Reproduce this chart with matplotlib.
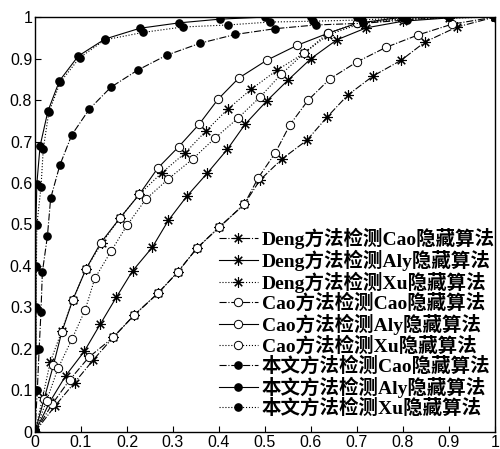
import matplotlib
matplotlib.use("Agg")
import matplotlib.pyplot as plt

# ROC-like curves (false positive rate, detection rate)
deng_cao_x = [0, 0.043, 0.086, 0.127, 0.17, 0.216, 0.267, 0.31, 0.352, 0.4, 0.455,
              0.489, 0.537, 0.591, 0.635, 0.68, 0.735, 0.796, 0.848, 0.917, 1]
deng_cao_y = [0, 0.062, 0.119, 0.174, 0.228, 0.282, 0.334, 0.385, 0.443, 0.493, 0.549,
              0.607, 0.658, 0.703, 0.759, 0.812, 0.858, 0.896, 0.94, 0.976, 1]

deng_aly_x = [0, 0.032, 0.067, 0.107, 0.142, 0.177, 0.212, 0.255, 0.29, 0.33, 0.374,
              0.418, 0.457, 0.504, 0.55, 0.6, 0.656, 0.72, 0.8, 0.9, 1]
deng_aly_y = [0, 0.072, 0.136, 0.194, 0.26, 0.325, 0.388, 0.445, 0.51, 0.568, 0.623,
              0.681, 0.742, 0.798, 0.848, 0.9, 0.945, 0.974, 0.99, 0.998, 1]

deng_xu_x = [0, 0.017, 0.033, 0.058, 0.082, 0.111, 0.145, 0.185, 0.227, 0.275, 0.326,
             0.372, 0.419, 0.47, 0.526, 0.585, 0.637, 0.71, 0.8, 1]
deng_xu_y = [0, 0.085, 0.168, 0.243, 0.318, 0.393, 0.455, 0.516, 0.573, 0.624, 0.672,
             0.726, 0.778, 0.826, 0.872, 0.913, 0.957, 0.985, 0.997, 1]

cao_cao_x = [0, 0.038, 0.075, 0.117, 0.17, 0.216, 0.267, 0.31, 0.352, 0.4, 0.455,
             0.485, 0.522, 0.554, 0.594, 0.641, 0.7, 0.763, 0.833, 0.907, 1]
cao_cao_y = [0, 0.068, 0.125, 0.18, 0.228, 0.282, 0.334, 0.385, 0.443, 0.493, 0.549,
             0.612, 0.672, 0.74, 0.8, 0.851, 0.892, 0.927, 0.957, 0.983, 1]

cao_aly_x = [0, 0.02, 0.04, 0.058, 0.082, 0.111, 0.143, 0.185, 0.227, 0.267, 0.312,
             0.357, 0.398, 0.443, 0.504, 0.57, 0.637, 0.7, 0.8, 1]
cao_aly_y = [0, 0.08, 0.161, 0.24, 0.318, 0.393, 0.456, 0.516, 0.573, 0.636, 0.687,
             0.742, 0.802, 0.853, 0.896, 0.932, 0.961, 0.985, 1, 1]

cao_xu_x = [0, 0.025, 0.05, 0.08, 0.109, 0.13, 0.165, 0.2, 0.241, 0.29, 0.343,
            0.391, 0.441, 0.489, 0.535, 0.585, 0.636, 0.7, 0.8, 1]
cao_xu_y = [0, 0.075, 0.153, 0.223, 0.294, 0.37, 0.435, 0.498, 0.561, 0.61, 0.658,
            0.708, 0.756, 0.807, 0.862, 0.913, 0.961, 0.985, 0.995, 1]

our_cao_x = [0, 0.005, 0.009, 0.013, 0.016, 0.027, 0.034, 0.054, 0.08, 0.118, 0.165,
             0.223, 0.286, 0.359, 0.435, 0.522, 0.611, 0.713, 0.808, 0.9, 1]
our_cao_y = [0, 0.1, 0.2, 0.29, 0.385, 0.472, 0.563, 0.643, 0.716, 0.778, 0.831,
             0.872, 0.908, 0.937, 0.958, 0.972, 0.981, 0.985, 0.993, 1, 1]

our_aly_x = [0, 0.001, 0.002, 0.002, 0.002, 0.002, 0.004, 0.011, 0.028, 0.053, 0.094,
             0.152, 0.228, 0.313, 0.402, 0.5, 0.6, 0.7, 0.8, 0.9, 1]
our_aly_y = [0, 0.1, 0.2, 0.3, 0.4, 0.5, 0.598, 0.689, 0.773, 0.846, 0.906,
             0.947, 0.973, 0.986, 0.995, 1, 1, 1, 1, 1, 1]

our_xu_x = [0, 0.001, 0.002, 0.002, 0.003, 0.004, 0.013, 0.018, 0.03, 0.055, 0.097,
            0.152, 0.235, 0.321, 0.42, 0.511, 0.604, 0.71, 0.8, 0.9, 1]
our_xu_y = [0, 0.098, 0.198, 0.298, 0.398, 0.498, 0.59, 0.682, 0.77, 0.843, 0.902,
            0.945, 0.963, 0.976, 0.981, 0.988, 0.99, 0.993, 0.998, 1, 1]

labels = ["Deng方法检测Cao隐藏算法", "Deng方法检测Aly隐藏算法", "Deng方法检测Xu隐藏算法",
          "Cao方法检测Cao隐藏算法", "Cao方法检测Aly隐藏算法", "Cao方法检测Xu隐藏算法",
          "本文方法检测Cao隐藏算法", "本文方法检测Aly隐藏算法", "本文方法检测Xu隐藏算法"]

series = [(deng_cao_x, deng_cao_y), (deng_aly_x, deng_aly_y), (deng_xu_x, deng_xu_y),
          (cao_cao_x, cao_cao_y), (cao_aly_x, cao_aly_y), (cao_xu_x, cao_xu_y),
          (our_cao_x, our_cao_y), (our_aly_x, our_aly_y), (our_xu_x, our_xu_y)]

styles = ["-.", "-", ":"] * 3
markers = ["star"] * 3 + ["open"] * 3 + ["filled"] * 3

fig = plt.figure(figsize=(5.0, 4.49), dpi=100)
ax = fig.add_axes([0.07, 0.038, 0.92, 0.924])

for (x, y), ls, mk, lab in zip(series, styles, markers, labels):
    if mk == "star":
        # matlab-like asterisk: 8 thin spokes
        kw = dict(marker=(8, 2, 0), ms=7.5, mfc="black", mec="black", mew=0.8)
    elif mk == "open":
        kw = dict(marker="o", ms=6, mfc="white", mec="black", mew=0.7)
    else:
        kw = dict(marker="o", ms=5.2, mfc="black", mec="black")
    ax.plot(x, y, ls=ls, color="black", lw=0.8, label=lab, **kw)

ax.set_xlim(0, 1)
ax.set_ylim(0, 1)
ticks = [0, 0.1, 0.2, 0.3, 0.4, 0.5, 0.6, 0.7, 0.8, 0.9, 1]
ticklabels = ["0", "0.1", "0.2", "0.3", "0.4", "0.5", "0.6", "0.7", "0.8", "0.9", "1"]
ax.set_xticks(ticks, ticklabels)
ax.set_yticks(ticks, ticklabels)
ax.tick_params(direction="in", length=4, width=0.8, labelsize=11.5, pad=2)
for lab in ax.get_xticklabels() + ax.get_yticklabels():
    lab.set_family("Liberation Sans")
for sp in ax.spines.values():
    sp.set_linewidth(1.0)

ax.legend(loc="upper left", bbox_to_anchor=(0.40, 0.492), frameon=False,
          handlelength=2.0, handletextpad=0.2, labelspacing=0.04, borderpad=0,
          borderaxespad=0,
          prop={"family": ["Liberation Serif", "Noto Sans CJK SC"], "size": 14,
                "weight": "bold"})

fig.savefig("out.png", dpi=100)
